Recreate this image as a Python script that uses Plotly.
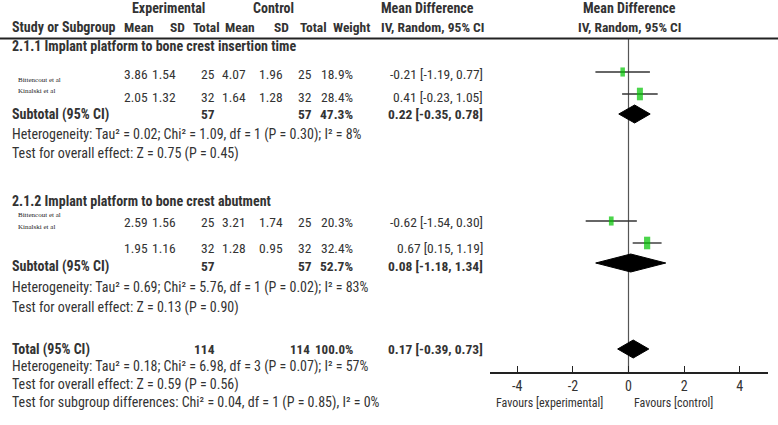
import plotly.graph_objects as go

# ---------------- data ----------------
study_names = ["Bittencout et al", "Kinalski et al", "Bittencout et al", "Kinalski et al"]
exp_mean = [3.86, 2.05, 2.59, 1.95]
exp_sd = [1.54, 1.32, 1.56, 1.16]
exp_n = [25, 32, 25, 32]
ctl_mean = [4.07, 1.64, 3.21, 1.28]
ctl_sd = [1.96, 1.28, 1.74, 0.95]
ctl_n = [25, 32, 25, 32]
weight = [18.9, 28.4, 20.3, 32.4]
md = [-0.21, 0.41, -0.62, 0.67]
md_lo = [-1.19, -0.23, -1.54, 0.15]
md_hi = [0.77, 1.05, 0.30, 1.19]

subgroup_titles = ["2.1.1 Implant platform to bone crest insertion time",
                   "2.1.2 Implant platform to bone crest abutment"]
sub_n_exp = [57, 57]
sub_n_ctl = [57, 57]
sub_weight = [47.3, 52.7]
sub_md = [0.22, 0.08]
sub_lo = [-0.35, -1.18]
sub_hi = [0.78, 1.34]
sub_het = ["Heterogeneity: Tau\u00b2 = 0.02; Chi\u00b2 = 1.09, df = 1 (P = 0.30); I\u00b2 = 8%",
           "Heterogeneity: Tau\u00b2 = 0.69; Chi\u00b2 = 5.76, df = 1 (P = 0.02); I\u00b2 = 83%"]
sub_test = ["Test for overall effect: Z = 0.75 (P = 0.45)",
            "Test for overall effect: Z = 0.13 (P = 0.90)"]

tot_n_exp = 114
tot_n_ctl = 114
tot_weight = 100.0
tot_md = 0.17
tot_lo = -0.39
tot_hi = 0.73
tot_lines = ["Heterogeneity: Tau\u00b2 = 0.18; Chi\u00b2 = 6.98, df = 3 (P = 0.07); I\u00b2 = 57%",
             "Test for overall effect: Z = 0.59 (P = 0.56)",
             "Test for subgroup differences: Chi\u00b2 = 0.04, df = 1 (P = 0.85), I\u00b2 = 0%"]

tick_vals = [-4, -2, 0, 2, 4]
tick_text = ["-4", "-2", "0", "2", "4"]
favours = ["Favours [experimental]", "Favours [control]"]

# ---------------- layout constants (pixels) ----------------
W, H = 778, 425
AXIS_Y = 372
FONT = "Roboto Condensed, DejaVu Sans Condensed, sans-serif"
SERIF = "Liberation Serif, Times New Roman, serif"
TXT = "#333333"
FS = 14      # left-hand text
FN = 13.5    # numeric columns

study_row_y = [74, 97, 222, 248]
study_lbl_y = [80, 91, 215, 227]
ci_row_y = [72, 94, 221, 243]
sub_title_y = [46, 201]
sub_row_y = [114, 266]
sub_diam_y = [114, 263]
sub_het_y = [134, 287]
sub_test_y = [154, 307]
tot_y = 349
tot_lines_y = [366, 384, 402]

col_right = dict(em=149, es=177, en=216, cm=247, cs=284, cn=313, w=354, ci=484)

annotations = []


def txt(x, y, s, anchor="left", bold=False, size=FS, family=FONT, color=TXT):
    annotations.append(dict(
        x=x / W, y=1 - y / H, xref="paper", yref="paper",
        text=("<b>%s</b>" % s) if bold else s,
        xanchor=anchor, yanchor="middle", showarrow=False,
        font=dict(family=family, size=size, color=color), borderpad=0))


# headers
txt(168, 8, "Experimental", "center", True)
txt(273, 8, "Control", "center", True)
txt(427, 8, "Mean Difference", "center", True)
txt(629, 8, "Mean Difference", "center", True)
txt(11, 27, "Study or Subgroup", "left", True)
for x, s in [(155, "Mean"), (186, "SD"), (221, "Total"), (256, "Mean"), (290, "SD"),
             (328, "Total"), (371, "Weight"), (485, "IV, Random, 95% CI")]:
    txt(x, 27, s, "right", True, FN)
txt(629, 27, "IV, Random, 95% CI", "center", True, FN)

# subgroups
for g in range(2):
    txt(11, sub_title_y[g], subgroup_titles[g], "left", True)
    for k in range(2):
        i = 2 * g + k
        yy = study_row_y[i]
        txt(17, study_lbl_y[i], study_names[i], "left", False, 7, SERIF, "#222222")
        txt(col_right["em"], yy, "%.2f" % exp_mean[i], "right", size=FN)
        txt(col_right["es"], yy, "%.2f" % exp_sd[i], "right", size=FN)
        txt(col_right["en"], yy, "%d" % exp_n[i], "right", size=FN)
        txt(col_right["cm"], yy, "%.2f" % ctl_mean[i], "right", size=FN)
        txt(col_right["cs"], yy, "%.2f" % ctl_sd[i], "right", size=FN)
        txt(col_right["cn"], yy, "%d" % ctl_n[i], "right", size=FN)
        txt(col_right["w"], yy, "%.1f%%" % weight[i], "right", size=FN)
        txt(col_right["ci"], yy, "%.2f [%.2f, %.2f]" % (md[i], md_lo[i], md_hi[i]), "right", size=FN)
    yy = sub_row_y[g]
    txt(11, yy, "Subtotal (95% CI)", "left", True)
    txt(col_right["en"], yy, "%d" % sub_n_exp[g], "right", True, FN)
    txt(col_right["cn"], yy, "%d" % sub_n_ctl[g], "right", True, FN)
    txt(col_right["w"], yy, "%.1f%%" % sub_weight[g], "right", True, FN)
    txt(col_right["ci"], yy, "%.2f [%.2f, %.2f]" % (sub_md[g], sub_lo[g], sub_hi[g]), "right", True, FN)
    txt(11, sub_het_y[g], sub_het[g], "left")
    txt(11, sub_test_y[g], sub_test[g], "left")

# total
txt(11, tot_y, "Total (95% CI)", "left", True)
txt(col_right["en"], tot_y, "%d" % tot_n_exp, "right", True, FN)
txt(col_right["cn"] - 2, tot_y, "%d" % tot_n_ctl, "right", True, 13)
txt(col_right["w"], tot_y, "%.1f%%" % tot_weight, "right", True, 13)
txt(col_right["ci"], tot_y, "%.2f [%.2f, %.2f]" % (tot_md, tot_lo, tot_hi), "right", True, FN)
for s, yy in zip(tot_lines, tot_lines_y):
    txt(11, yy, s, "left")

# favours labels
txt(604, 403, favours[0], "right", size=12)
txt(633, 403, favours[1], "left", size=12)

fig = go.Figure()

# study CIs + squares
sq_w = [4.5, 6, 4.7, 6.2]
sq_h = [6.5, 9, 6.5, 9]
fig.add_trace(go.Scatter(
    x=md, y=ci_row_y, mode="markers",
    error_x=dict(type="data", symmetric=False,
                 array=[h - m for h, m in zip(md_hi, md)],
                 arrayminus=[m - l for m, l in zip(md, md_lo)],
                 width=0, thickness=1.4, color="#333333"),
    marker=dict(symbol="line-ns", size=sq_h, color="#00c400",
                line=dict(width=sq_w, color="#00c400")),
    hoverinfo="skip", showlegend=False))


def diamond(lo, est, hi, yc, hh=9):
    fig.add_trace(go.Scatter(
        x=[lo, est, hi, est, lo], y=[yc, yc - hh, yc, yc + hh, yc],
        mode="lines", fill="toself", fillcolor="#000000",
        line=dict(color="#000000", width=1), hoverinfo="skip", showlegend=False))


for g in range(2):
    diamond(sub_lo[g], sub_md[g], sub_hi[g], sub_diam_y[g])
diamond(tot_lo, tot_md, tot_hi, tot_y)

fig.update_layout(
    width=W, height=H, margin=dict(l=0, r=0, t=0, b=0),
    paper_bgcolor="white", plot_bgcolor="white",
    xaxis=dict(domain=[489.5 / W, 767.5 / W], range=[-5, 5],
               tickvals=tick_vals, ticktext=tick_text,
               ticks="inside", ticklen=6, tickwidth=1.2, tickcolor="#222222",
               showline=True, linecolor="#222222", linewidth=1.5,
               showgrid=False, zeroline=False, anchor="y",
               tickfont=dict(family=FONT, size=FS, color=TXT), fixedrange=True),
    yaxis=dict(domain=[(H - AXIS_Y) / H, 1], range=[AXIS_Y, 0], visible=False,
               fixedrange=True),
    annotations=annotations,
    shapes=[
        dict(type="line", xref="paper", yref="y", x0=0, x1=1, y0=38.5, y1=38.5,
             line=dict(color="#222222", width=2)),
        dict(type="line", xref="x", yref="y", x0=0, x1=0, y0=38.5, y1=AXIS_Y,
             line=dict(color="#555555", width=1.2), layer="below"),
    ],
)

fig.write_html("out.html")
